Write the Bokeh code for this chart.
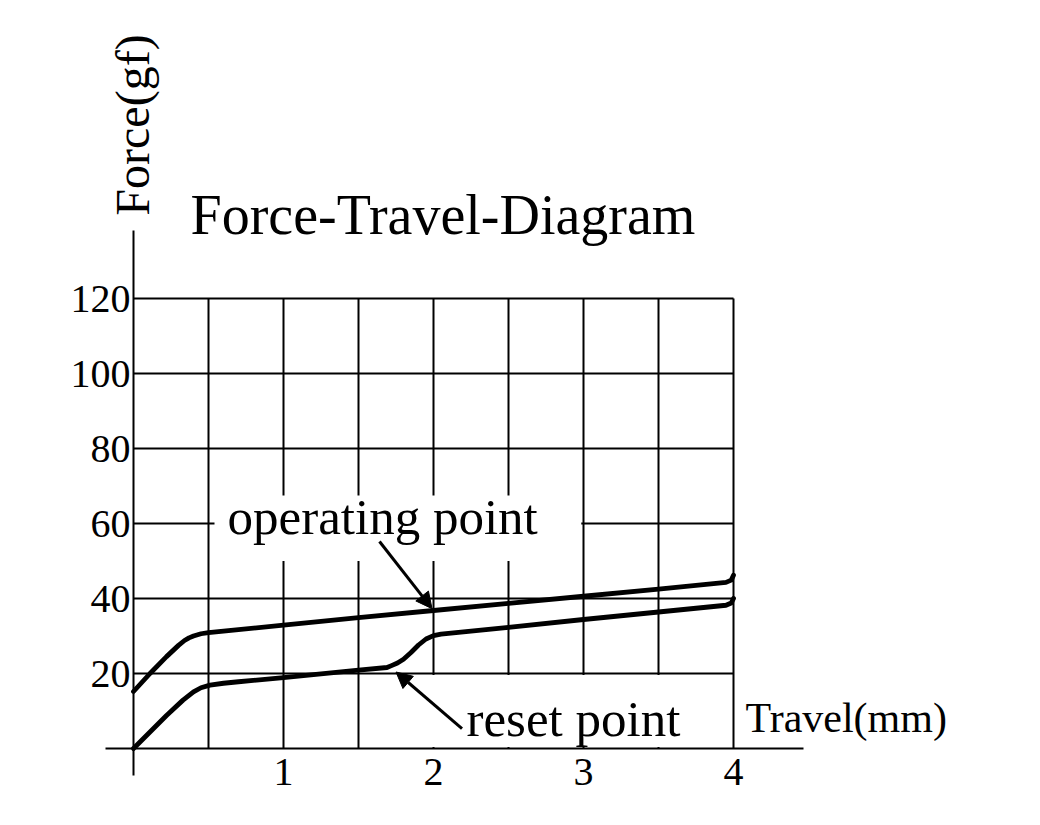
import math
from bokeh.plotting import figure
from bokeh.models import Range1d, FixedTicker, Label, Arrow, NormalHead
from bokeh.embed import file_html
from bokeh.resources import INLINE

# ---- data ----
travel_ticks = [1, 2, 3, 4]
force_ticks = [20, 40, 60, 80, 100, 120]
grid_travel = [0.5, 1.0, 1.5, 2.0, 2.5, 3.0, 3.5, 4.0]
grid_force = [20, 40, 60, 80, 100, 120]

# operating (upper) curve
op_travel = [0.0, 0.11, 0.22, 0.30, 0.34, 0.37, 0.40, 0.45, 0.50, 0.6, 1.0, 1.5, 2.0, 2.5, 3.0, 3.5, 3.95, 3.985, 4.0]
op_force = [15.2, 20.0, 24.5, 27.5, 28.8, 29.5, 30.0, 30.6, 30.9, 31.3, 32.9, 34.9, 36.8, 38.7, 40.6, 42.5, 44.3, 44.9, 46.2]

# reset (lower) curve
rs_travel = [0.0, 0.11, 0.22, 0.33, 0.40, 0.45, 0.51, 0.60, 0.70, 1.0, 1.5, 1.69, 1.72, 1.76, 1.80, 1.85, 1.90, 1.95,
             2.0, 2.05, 2.5, 3.0, 3.5, 3.95, 3.985, 4.0]
rs_force = [0.0, 4.4, 8.8, 12.9, 15.1, 16.2, 16.9, 17.4, 17.8, 18.9, 20.9, 21.6, 22.1, 22.8, 23.8, 25.6, 27.6, 29.2,
            30.1, 30.5, 32.3, 34.4, 36.4, 38.2, 38.8, 40.0]

op_arrow_travel = [1.64, 1.99]
op_arrow_force = [55.2, 37.3]
rs_arrow_travel = [2.19, 1.75]
rs_arrow_force = [5.3, 20.4]

title_text = "Force-Travel-Diagram"
y_label_text = "Force(gf)"
x_label_text = "Travel(mm)"
op_text = "operating point"
rs_text = "reset point"

FONT = "Liberation Serif"

# ---- layout geometry (canvas pixels) ----
W, H = 1024, 809
x0_px, px_per_x = 133.0, 150.0
y0_px, px_per_y = 748.0, 3.75

p = figure(width=W, height=H,
           x_range=Range1d(-x0_px / px_per_x, (W - x0_px) / px_per_x),
           y_range=Range1d(-(H - y0_px) / px_per_y, y0_px / px_per_y),
           output_backend="svg", toolbar_location=None,
           min_border=0, outline_line_color=None)
p.xgrid.visible = False
p.ygrid.visible = False
p.background_fill_color = "white"
p.border_fill_color = "white"

# axes fixed at the origin
p.xaxis.fixed_location = 0
p.yaxis.fixed_location = 0
p.xaxis.bounds = (-0.187, 4.467)
p.yaxis.bounds = (-7.2, 138.1)
p.xaxis.ticker = FixedTicker(ticks=travel_ticks)
p.yaxis.ticker = FixedTicker(ticks=force_ticks)
for ax in (p.xaxis, p.yaxis):
    ax.axis_line_color = "black"
    ax.axis_line_width = 2
    ax.major_tick_line_color = None
    ax.minor_tick_line_color = None
    ax.major_tick_out = 0
    ax.major_tick_in = 0
    ax.major_label_text_font = FONT
    ax.major_label_text_color = "black"
p.xaxis.major_label_text_font_size = "40px"
p.yaxis.major_label_text_font_size = "40px"
p.xaxis.major_label_standoff = 10
p.yaxis.major_label_standoff = 3

# grid lines inside 0..4 x 0..120
p.segment(x0=grid_travel, y0=[0] * len(grid_travel), x1=grid_travel, y1=[max(grid_force)] * len(grid_travel),
          line_color="black", line_width=2)
p.segment(x0=[0] * len(grid_force), y0=grid_force, x1=[max(grid_travel)] * len(grid_force), y1=grid_force,
          line_color="black", line_width=2)

# white backgrounds behind the annotation texts
p.quad(left=[0.54, 1.62], right=[2.985, 3.985], bottom=[50.0, 0.4], top=[67.5, 19.6],
       fill_color="white", line_color=None)

# curves
p.line(op_travel, op_force, line_color="black", line_width=4.8, line_join="round", line_cap="round")
p.line(rs_travel, rs_force, line_color="black", line_width=4.8, line_join="round", line_cap="round")

# arrows
for xs, ys in ((op_arrow_travel, op_arrow_force), (rs_arrow_travel, rs_arrow_force)):
    p.add_layout(Arrow(end=NormalHead(size=16, fill_color="black", line_color="black", line_width=1),
                       x_start=xs[0], y_start=ys[0], x_end=xs[1], y_end=ys[1],
                       line_color="black", line_width=3))

def add_text(txt, x, y, size, angle=0.0):
    p.add_layout(Label(x=x, y=y, text=txt, text_font=FONT, text_font_size=size,
                       text_color="black", text_align="left", text_baseline="alphabetic",
                       angle=angle))

add_text(title_text, 0.38, 142.4, "56px")
add_text(y_label_text, -0.007, 142.1, "48px", angle=math.pi / 2)
add_text(x_label_text, 4.08, 8.1, "42px")
add_text(op_text, 0.627, 61.7, "51px")
add_text(rs_text, 2.22, 7.9, "51px")

open("out.html", "w").write(file_html(p, INLINE))
